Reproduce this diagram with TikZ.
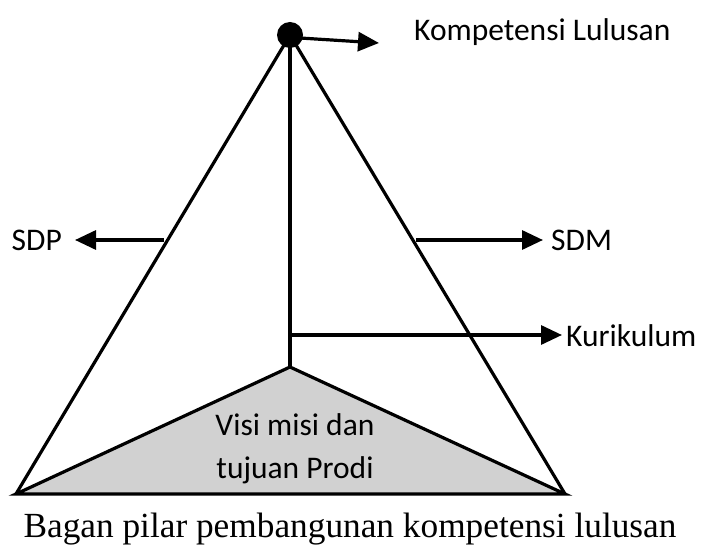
\documentclass[tikz,border=0pt]{standalone}
\usepackage{fontspec}
\setmainfont{Carlito}
\newfontfamily\capfont{Liberation Serif}
\usetikzlibrary{arrows.meta}
\begin{document}
\begin{tikzpicture}[x=1pt,y=-1pt,
  edge/.style={line width=3.2pt, line join=miter},
  pointer/.style={line width=3.2pt, -{Triangle[length=21pt,width=19pt]}},
  label/.style={font=\fontsize{31.5}{38}\selectfont, inner sep=0pt},
  basefill/.style={fill=black!18}]
  \useasboundingbox (0,0) rectangle (701,553);

  % frame points of the pyramid
  \coordinate (apex) at (290,35);
  \coordinate (bl) at (16,494);
  \coordinate (br) at (565,494);
  \coordinate (core) at (290,367);

  % base triangle (vision and mission)
  \draw[edge, basefill] (bl) -- (core) -- (br) -- cycle;
  % outer edges and central pillar
  \draw[edge] (bl) -- (apex) -- (br);
  \draw[edge] (apex) -- (core);
  \fill (apex) circle (13);

  % start points of the pointers
  \coordinate (pL) at (164,240);
  \coordinate (pR) at (416,240);
  \coordinate (pC) at (290,335);
  \coordinate (pA) at (300,38);
  % tip of the pointer to the graduate competence
  \coordinate (tA) at (379,43);

  % labels
  \node[label, anchor=base west] (komp) at (414,41) {Kompetensi Lulusan};
  \node[label, anchor=base east] (sdp) at (62,251) {SDP};
  \node[label, anchor=base west] (sdm) at (551,251) {SDM};
  \node[label, anchor=base west] (kur) at (566,346) {Kurikulum};
  \node[label, anchor=base] (visi) at (295,435) {Visi misi dan};
  \node[label, anchor=base] (tuj) at (295,478) {tujuan Prodi};
  \node[inner sep=0pt, anchor=base, font=\capfont\fontsize{35.3}{42}\selectfont]
    (cap) at (350,537) {Bagan pilar pembangunan kompetensi lulusan};

  % pointers
  \draw[pointer] (pA) -- (tA);
  \draw[pointer] (pL) -- ([xshift=13pt]sdp.east |- pL);
  \draw[pointer] (pR) -- ([xshift=-8pt]sdm.west |- pR);
  \draw[pointer] (pC) -- ([xshift=-4pt]kur.west |- pC);
\end{tikzpicture}
\end{document}
